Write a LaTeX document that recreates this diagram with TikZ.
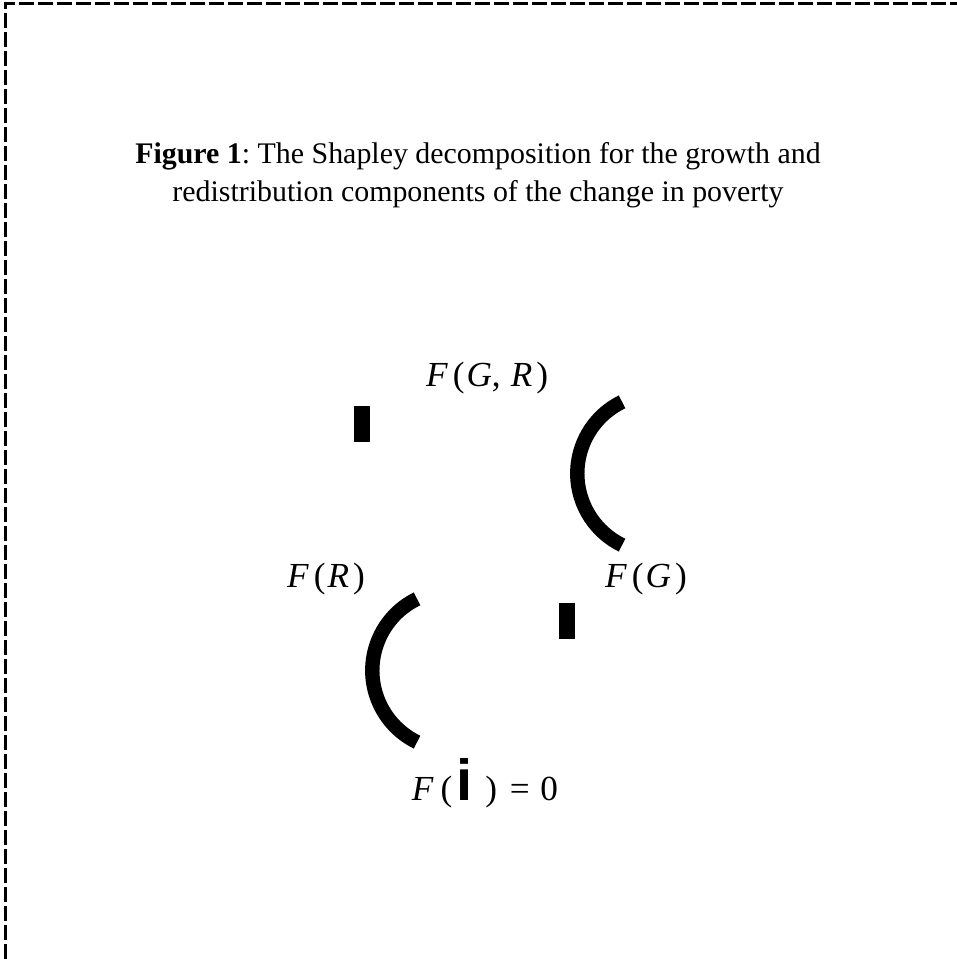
\documentclass[tikz,border=0pt]{standalone}
\usepackage{fontspec}
\setmainfont{Liberation Serif}
\newfontfamily\isans{Liberation Sans}
\usetikzlibrary{positioning}
\frenchspacing
\tikzset{
  caption/.style={font=\fontsize{14.95pt}{19pt}\selectfont, align=center, inner sep=0pt},
  term/.style={font=\fontsize{17.6pt}{20pt}\selectfont, inner sep=0pt, anchor=base},
  frame/.style={line width=1.5pt, dash pattern=on 7.5pt off 2pt},
  bigparen/.style={line width=7.2pt},
  block/.style={fill=black, draw=none},
}
\newcommand{\lp}{\kern2.5pt(\kern1pt}
\newcommand{\rp}{\kern2pt)}
\begin{document}
\begin{tikzpicture}[x=0.5pt, y=0.5pt]
  \useasboundingbox (0,0) rectangle (957,959);
  \draw[frame] (5,0) -- (5,955) -- (962,955);
  \node[caption] (title) at (478,784) {\textbf{Figure 1}: The Shapley decomposition for the growth and\\redistribution components of the change in poverty};
  \node[term] (fgr) at (487,572) {\textit{F}\lp\textit{G},\kern5pt\textit{R}\rp};
  \node[term] (fr) at (326,371) {\textit{F}\lp\textit{R}\rp};
  \node[term] (fg) at (646,371) {\textit{F}\lp\textit{G}\rp};
  \node[term] (fzero) at (485,158) {\textit{F}\kern1pt\lp\kern1pt{\isans\bfseries\fontsize{29pt}{30pt}\selectfont i}\ \rp\kern2pt\ = \kern1pt0};
  \fill[block] (354,517) rectangle (370,553);
  \fill[block] (559,320) rectangle (575,356);
  \coordinate (top) at (657,485.5);
  \coordinate (low) at (452,288.5);
  \draw[bigparen] (top) ++(116:39.85pt) arc[start angle=116, end angle=244, radius=39.85pt];
  \draw[bigparen] (low) ++(116:39.85pt) arc[start angle=116, end angle=244, radius=39.85pt];
\end{tikzpicture}
\end{document}
